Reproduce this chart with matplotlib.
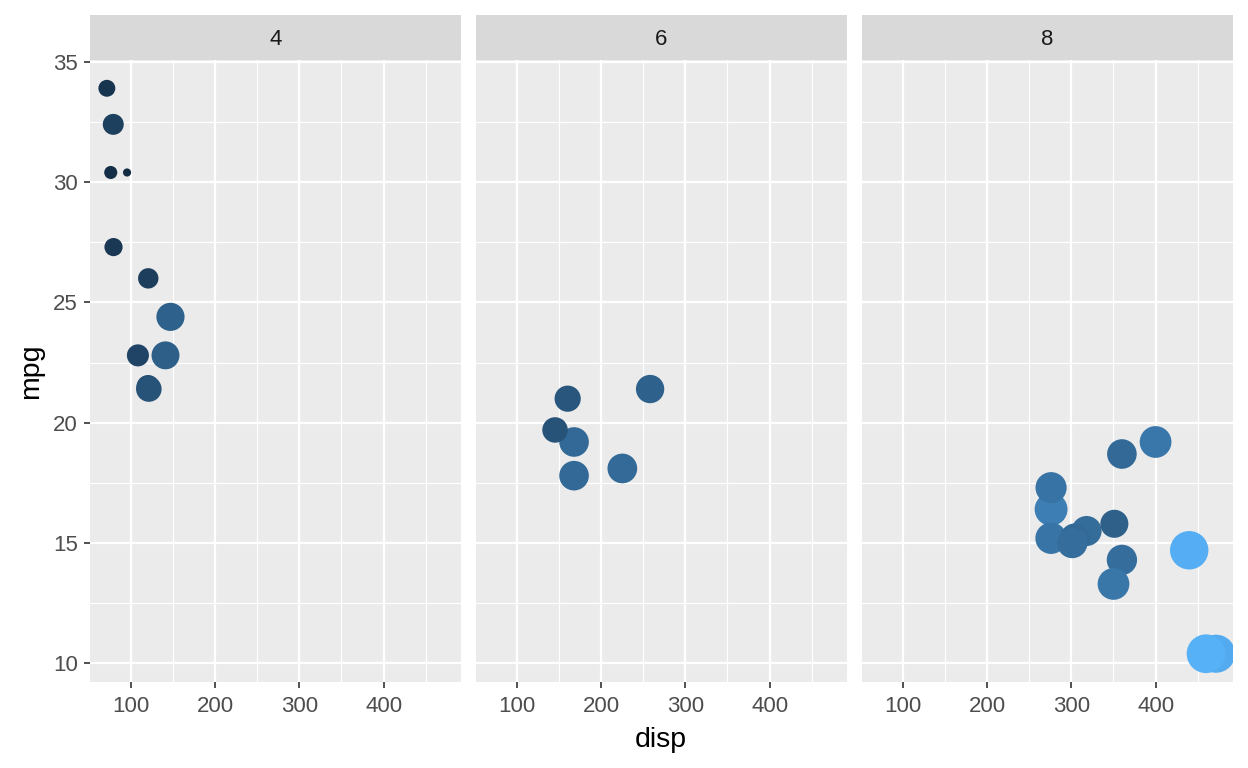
import numpy as np
import matplotlib
matplotlib.use("Agg")
import matplotlib.pyplot as plt
from matplotlib.colors import to_rgb

# mtcars: disp, mpg, cyl, wt
disp = [160, 160, 108, 258, 360, 225, 360, 146.7, 140.8, 167.6, 167.6, 275.8, 275.8, 275.8,
        472, 460, 440, 78.7, 75.7, 71.1, 120.1, 318, 304, 350, 400, 79, 120.3, 95.1, 351, 145, 301, 121]
mpg = [21, 21, 22.8, 21.4, 18.7, 18.1, 14.3, 24.4, 22.8, 19.2, 17.8, 16.4, 17.3, 15.2,
       10.4, 10.4, 14.7, 32.4, 30.4, 33.9, 21.5, 15.5, 15.2, 13.3, 19.2, 27.3, 26, 30.4, 15.8, 19.7, 15, 21.4]
cyl = [6, 6, 4, 6, 8, 6, 8, 4, 4, 6, 6, 8, 8, 8, 8, 8, 8, 4, 4, 4, 4, 8, 8, 8, 8, 4, 4, 4, 8, 6, 8, 4]
wt = [2.62, 2.875, 2.32, 3.215, 3.44, 3.46, 3.57, 3.19, 3.15, 3.44, 3.44, 4.07, 3.73, 3.78,
      5.25, 5.424, 5.345, 2.2, 1.615, 1.835, 2.465, 3.52, 3.435, 3.84, 3.845, 1.935, 2.14, 1.513, 3.17, 2.77, 3.57, 2.78]
facets = [4, 6, 8]
xticks = [100, 200, 300, 400]
yticks = [10, 15, 20, 25, 30, 35]

disp = np.array(disp); mpg = np.array(mpg); cyl = np.array(cyl); wt = np.array(wt)


# ---- colour gradient in Lab like ggplot ----
def _lin(c):
    c = np.asarray(c)
    return np.where(c <= 0.04045, c / 12.92, ((c + 0.055) / 1.055) ** 2.4)

def _gam(c):
    c = np.clip(c, 0, 1)
    return np.where(c <= 0.0031308, 12.92 * c, 1.055 * c ** (1 / 2.4) - 0.055)

M = np.array([[0.4124, 0.3576, 0.1805], [0.2126, 0.7152, 0.0722], [0.0193, 0.1192, 0.9505]])
WP = np.array([0.95047, 1.0, 1.08883])

def to_lab(hexc):
    xyz = M @ _lin(to_rgb(hexc)) / WP
    f = np.where(xyz > 0.008856, np.cbrt(xyz), 7.787 * xyz + 16 / 116)
    return np.array([116 * f[1] - 16, 500 * (f[0] - f[1]), 200 * (f[1] - f[2])])

def from_lab(lab):
    fy = (lab[0] + 16) / 116
    fx = fy + lab[1] / 500
    fz = fy - lab[2] / 200
    f = np.array([fx, fy, fz])
    xyz = np.where(f ** 3 > 0.008856, f ** 3, (f - 16 / 116) / 7.787) * WP
    return tuple(_gam(np.linalg.inv(M) @ xyz))

lo, hi = to_lab("#132B43"), to_lab("#56B1F7")
t = (wt - wt.min()) / (wt.max() - wt.min())
colors = [from_lab(lo + (hi - lo) * v) for v in t]

# size: area palette range 1..6 (mm) -> pixel diameter
size_mm = 1 + 5 * np.sqrt(t)
diam_px = 2.15 * (size_mm * 2.845 + 0.945)
s = (diam_px * 0.72) ** 2

xlim = (disp.min() - 0.05 * np.ptp(disp), disp.max() + 0.05 * np.ptp(disp))
ylim = (mpg.min() - 0.05 * np.ptp(mpg), mpg.max() + 0.05 * np.ptp(mpg))

W, H = 1248, 768
fig = plt.figure(figsize=(W / 100, H / 100), dpi=100)
plt.rcParams['font.family'] = ['Liberation Sans', 'DejaVu Sans']

lefts = [90, 476, 862]
pw = 371
top, bot = 60, 682
strip_h = 45

for i, c in enumerate(facets):
    ax = fig.add_axes([lefts[i] / W, 1 - bot / H, pw / W, (bot - top) / H])
    ax.set_facecolor("#EBEBEB")
    for sp in ax.spines.values():
        sp.set_visible(False)
    ax.set_xlim(*xlim); ax.set_ylim(*ylim)
    ax.set_xticks(xticks)
    ax.set_yticks(yticks)
    ax.set_xticks([150, 250, 350, 450], minor=True)
    ax.set_yticks([12.5, 17.5, 22.5, 27.5, 32.5], minor=True)
    ax.grid(True, which="major", color="white", lw=1.6)
    ax.grid(True, which="minor", color="white", lw=0.8)
    ax.set_axisbelow(True)
    ax.tick_params(which="minor", length=0)
    ax.tick_params(which="major", length=4.3, width=1.2, color="#333333",
                   labelcolor="#4D4D4D", labelsize=16)
    ax.tick_params(axis="x", pad=5.5)
    ax.tick_params(axis="y", pad=4.5)
    if i > 0:
        ax.tick_params(axis="y", left=False, labelleft=False)
    m = cyl == c
    idx = np.where(m)[0]
    ax.scatter(disp[idx], mpg[idx], s=s[idx], c=[colors[j] for j in idx],
               linewidths=0, zorder=3)

    sax = fig.add_axes([lefts[i] / W, 1 - top / H, pw / W, strip_h / H])
    sax.set_facecolor("#D9D9D9")
    sax.set_xticks([]); sax.set_yticks([])
    for sp in sax.spines.values():
        sp.set_visible(False)
    sax.text(0.5, 0.46, str(c), ha="center", va="center", fontsize=16,
             color="#1A1A1A", transform=sax.transAxes)

fig.text(661 / W, 1 - 740 / H, "disp", ha="center", va="center", fontsize=20.5)
fig.text(31 / W, 1 - 371 / H, "mpg", ha="center", va="center", rotation=90, fontsize=20.5)

fig.savefig("out.png", dpi=100)
